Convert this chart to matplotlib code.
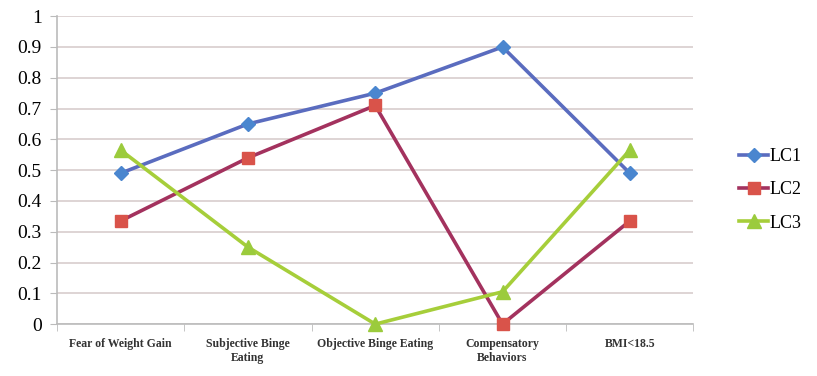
import matplotlib
matplotlib.use("Agg")
import matplotlib.pyplot as plt
import numpy as np

categories = ["Fear of Weight Gain", "Subjective Binge\nEating", "Objective Binge Eating",
              "Compensatory\nBehaviors", "BMI<18.5"]
lc1 = [0.49, 0.65, 0.75, 0.90, 0.49]
lc2 = [0.335, 0.54, 0.71, 0.00, 0.335]
lc3 = [0.565, 0.25, 0.00, 0.105, 0.565]
series_names = ["LC1", "LC2", "LC3"]
yticks = [0, 0.1, 0.2, 0.3, 0.4, 0.5, 0.6, 0.7, 0.8, 0.9, 1]
ytick_labels = ["0", "0.1", "0.2", "0.3", "0.4", "0.5", "0.6", "0.7", "0.8", "0.9", "1"]

plt.rcParams['font.family'] = ['Liberation Serif', 'DejaVu Serif']

fig = plt.figure(figsize=(8.17, 3.76), dpi=100)
ax = fig.add_axes([0.0698, 0.138, 0.779, 0.819])

x = np.arange(len(categories))
styles = [
    dict(color='#5A6CBF', marker='D', mfc='#4A86CF', mec='#4A86CF', ms=7),
    dict(color='#A3325E', marker='s', mfc='#D9534A', mec='#D9534A', ms=9),
    dict(color='#A6CE3A', marker='^', mfc='#9BCB3C', mec='#9BCB3C', ms=10),
]
for vals, name, st in zip([lc1, lc2, lc3], series_names, styles):
    ax.plot(x, vals, label=name, lw=2.6, zorder=3, clip_on=False, **st)

ax.set_xlim(-0.5, len(categories) - 0.5)
ax.set_ylim(0, 1)
ax.set_yticks(yticks)
ax.set_yticklabels(ytick_labels, fontsize=14)
ax.yaxis.grid(True, color='#D8CDCD', lw=1.2)
ax.set_axisbelow(True)

ax.set_xticks(x)
ax.set_xticklabels(categories, fontsize=8.5, fontweight='bold', color='#333333')
ax.set_xticks(np.arange(-0.5, len(categories)), minor=True)
ax.tick_params(axis='x', which='major', length=0, pad=10)
ax.tick_params(axis='x', which='minor', length=5, color='#BBBBBB', direction='out')
ax.tick_params(axis='y', length=5, color='#BBBBBB', pad=6)

for s in ['top', 'right']:
    ax.spines[s].set_visible(False)
ax.spines['left'].set_color('#BBBBBB')
ax.spines['bottom'].set_color('#BBBBBB')
ax.spines['left'].set_linewidth(1.2)
ax.spines['bottom'].set_linewidth(1.2)

leg = fig.legend(loc='center left', bbox_to_anchor=(0.887, 0.495), frameon=False,
                 fontsize=13, handlelength=1.6, handletextpad=0.1, labelspacing=0.9,
                 borderpad=0.3)

fig.savefig("out.png", dpi=100)
